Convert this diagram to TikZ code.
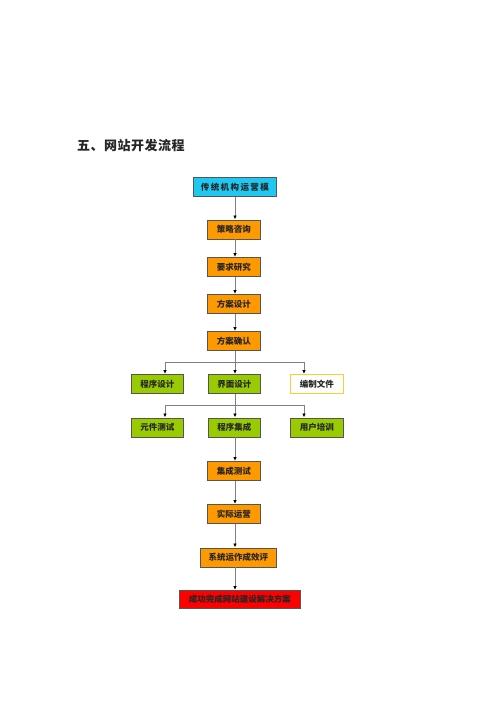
\documentclass[tikz,border=0pt]{standalone}
\usepackage{fontspec}
\newfontfamily\cjk{Noto Sans CJK SC}
\usetikzlibrary{arrows.meta}
\definecolor{cyanbox}{HTML}{1EC8F0}
\definecolor{orangebox}{HTML}{FF9900}
\definecolor{greenbox}{HTML}{99CC00}
\definecolor{redbox}{HTML}{FF0000}
\definecolor{yellowedge}{HTML}{FFCC33}
\definecolor{edgegray}{HTML}{555555}
\definecolor{linegray}{HTML}{808080}
\begin{document}
\begin{tikzpicture}[x=1pt,y=-1pt,
  box/.style={draw=edgegray, line width=0.8pt, minimum height=19pt, inner sep=0pt,
    font=\cjk\bfseries\fontsize{8.5}{10}\selectfont, text=black!85, anchor=north west},
  obox/.style={box, fill=orangebox},
  gbox/.style={box, fill=greenbox},
  conn/.style={draw=linegray, line width=0.8pt, -{Latex[length=4pt,width=3.5pt,black]}},
  wire/.style={draw=linegray, line width=0.8pt}
]
\useasboundingbox (0,0) rectangle (500,707);
\fill[white] (0,0) rectangle (500,707);
\node[anchor=west, inner sep=0pt, font=\cjk\bfseries\fontsize{13}{15}\selectfont, text=black!85] (title) at (77,146) {五\kern0.5pt、\kern0.5pt网\kern0.5pt站\kern0.5pt开\kern0.5pt发\kern0.5pt流\kern0.5pt程};

\node[box, fill=cyanbox, minimum width=83pt, minimum height=19pt] (a) at (193,177) {传\,统\,机\,构\,运\,营\,模};
\node[obox, minimum width=53pt] (b) at (207,219.5) {策略咨询};
\node[obox, minimum width=53pt] (c) at (207,257) {要求研究};
\node[obox, minimum width=53pt] (d) at (207,294) {方案设计};
\node[obox, minimum width=53pt] (e) at (207,331) {方案确认};

\node[gbox, minimum width=52pt] (f1) at (131,374) {程序设计};
\node[gbox, minimum width=52pt] (f2) at (208,374) {界面设计};
\node[box, draw=yellowedge, fill=white, minimum width=53pt] (f3) at (290,374) {编制文件};

\node[gbox, minimum width=52pt] (g1) at (131,417.5) {元件测试};
\node[gbox, minimum width=52pt] (g2) at (208,417.5) {程序集成};
\node[gbox, minimum width=53pt] (g3) at (290,417.5) {用户培训};

\node[obox, minimum width=53pt] (h) at (207,461) {集成测试};
\node[obox, minimum width=53pt] (i) at (207,504) {实际运营};
\node[obox, minimum width=76pt] (j) at (200,547.5) {系统运作成效评};
\node[box, fill=redbox, minimum width=121pt, minimum height=18pt] (k) at (179,590) {成功完成网站建设解决方案};

\coordinate (s1) at (235,362);
\coordinate (s2) at (235,405);
\coordinate (l1) at (165,362);
\coordinate (r1) at (304,362);
\coordinate (l2) at (165,405);
\coordinate (r2) at (304,405);

\draw[conn] (a.south -| s1) -- (b.north -| s1);
\draw[conn] (b.south -| s1) -- (c.north -| s1);
\draw[conn] (c.south -| s1) -- (d.north -| s1);
\draw[conn] (d.south -| s1) -- (e.north -| s1);

\draw[wire] (e.south -| s1) -- (s1);
\draw[wire] (l1) -- (r1);
\draw[conn] (l1) -- (f1.north -| l1);
\draw[conn] (s1) -- (f2.north -| s1);
\draw[conn] (r1) -- (f3.north -| r1);

\draw[wire] (f2.south -| s2) -- (s2);
\draw[wire] (l2) -- (r2);
\draw[conn] (l2) -- (g1.north -| l2);
\draw[conn] (s2) -- (g2.north -| s2);
\draw[conn] (r2) -- (g3.north -| r2);

\draw[conn] (g2.south -| s1) -- (h.north -| s1);
\draw[conn] (h.south -| s1) -- (i.north -| s1);
\draw[conn] (i.south -| s1) -- (j.north -| s1);
\draw[conn] (j.south -| s1) -- (k.north -| s1);
\end{tikzpicture}
\end{document}
